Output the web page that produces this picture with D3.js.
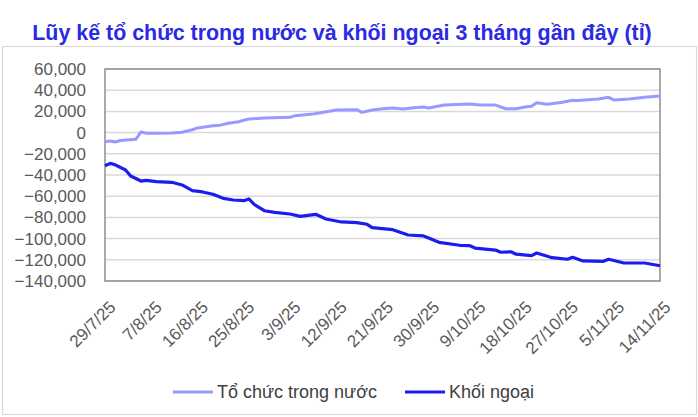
<!DOCTYPE html>
<html>
<head>
<meta charset="utf-8">
<script src="https://cdn.jsdelivr.net/npm/d3@7"></script>
<style>
  body { margin: 0; background: #fff; }
  text { font-family: "Liberation Sans", Arial, sans-serif; }
</style>
</head>
<body>
<div id="chart"></div>
<script>
// values in ty dong (thousands on the axis)
const domesticDates = ["2025-07-29","2025-07-30","2025-07-31","2025-08-01","2025-08-04","2025-08-05","2025-08-06","2025-08-08","2025-08-11","2025-08-13","2025-08-15","2025-08-16","2025-08-19","2025-08-20","2025-08-22","2025-08-24","2025-08-25","2025-08-26","2025-08-29","2025-09-03","2025-09-04","2025-09-07","2025-09-09","2025-09-12","2025-09-16","2025-09-17","2025-09-19","2025-09-21","2025-09-23","2025-09-25","2025-09-27","2025-09-29","2025-09-30","2025-10-03","2025-10-08","2025-10-10","2025-10-13","2025-10-15","2025-10-17","2025-10-19","2025-10-20","2025-10-21","2025-10-23","2025-10-26","2025-10-28","2025-10-29","2025-11-02","2025-11-04","2025-11-05","2025-11-08","2025-11-11","2025-11-14"];
const domesticValues = [-8600,-7900,-8900,-7400,-6300,600,-500,-700,-400,300,2700,4400,6500,6600,8800,10300,11600,12800,13800,14400,16000,17200,18800,21300,21600,19100,21300,22500,23200,22300,23500,24200,23200,26000,27000,26000,26000,22500,22500,24400,24800,28200,26700,28600,30500,30200,31700,33300,30800,31700,33300,34500];

const foreignDates = ["2025-07-29","2025-07-30","2025-07-31","2025-08-02","2025-08-03","2025-08-05","2025-08-06","2025-08-08","2025-08-11","2025-08-13","2025-08-15","2025-08-17","2025-08-19","2025-08-21","2025-08-23","2025-08-25","2025-08-26","2025-08-27","2025-08-29","2025-08-31","2025-09-03","2025-09-05","2025-09-08","2025-09-10","2025-09-13","2025-09-16","2025-09-18","2025-09-19","2025-09-22","2025-09-23","2025-09-26","2025-09-29","2025-10-02","2025-10-06","2025-10-08","2025-10-09","2025-10-13","2025-10-14","2025-10-16","2025-10-17","2025-10-20","2025-10-21","2025-10-24","2025-10-27","2025-10-28","2025-10-30","2025-11-03","2025-11-04","2025-11-07","2025-11-11","2025-11-14"];
const foreignValues = [-31200,-29000,-30400,-35300,-41000,-45700,-45000,-46300,-46900,-49400,-54800,-56000,-58200,-62000,-63600,-64200,-62600,-67600,-73700,-75200,-76800,-79000,-77100,-81500,-84300,-85000,-86500,-89700,-91000,-91600,-96600,-97500,-103500,-106300,-106700,-108900,-110800,-112900,-112400,-114700,-116100,-113600,-118000,-119500,-117600,-121100,-121400,-119500,-123000,-123000,-125600];

const seriesNames = ["Tổ chức trong nước", "Khối ngoại"];
const yTicks = [60000,40000,20000,0,-20000,-40000,-60000,-80000,-100000,-120000,-140000];
const xTickLabels = ["2025-07-29","2025-08-07","2025-08-16","2025-08-25","2025-09-03","2025-09-12","2025-09-21","2025-09-30","2025-10-09","2025-10-18","2025-10-27","2025-11-05","2025-11-14"];
const titleText = "Lũy kế tổ chức trong nước và khối ngoại 3 tháng gần đây (tỉ)";

const W = 698, H = 417;
const margin = {left: 105, right: 38, top: 69, bottom: 136};
const width = W - margin.left - margin.right;
const height = H - margin.top - margin.bottom;
const colors = ["#9999ff", "#1c1cf0"];

const parse = d3.timeParse("%Y-%m-%d");
const fmt = d3.timeFormat("%-d/%-m/%y");

const svg = d3.select("#chart").append("svg")
    .attr("width", W)
    .attr("height", H);

// outer frame
svg.append("rect")
    .attr("x", 2.5).attr("y", 46.5)
    .attr("width", 694).attr("height", 368)
    .attr("fill", "none")
    .attr("stroke", "#d9d9d9")
    .attr("stroke-width", 1.2);

// title, scaled to the width it has in the picture
const title = svg.append("text")
    .attr("x", 342).attr("y", 40)
    .attr("text-anchor", "middle")
    .attr("font-weight", "bold")
    .attr("font-size", 19)
    .attr("fill", "#2a2ae6")
    .text(titleText);
const tl = title.node().getComputedTextLength();
title.attr("font-size", 19 * 620 / tl);

const g = svg.append("g")
    .attr("transform", `translate(${margin.left},${margin.top})`);

const x = d3.scaleTime()
    .domain([parse(xTickLabels[0]), parse(xTickLabels[xTickLabels.length - 1])])
    .range([0, width]);

const y = d3.scaleLinear()
    .domain([-140000, 60000])
    .range([height, 0]);

// gridlines
g.append("g")
    .selectAll("line")
    .data(yTicks)
    .enter().append("line")
    .attr("x1", 0).attr("x2", width)
    .attr("y1", d => y(d)).attr("y2", d => y(d))
    .attr("stroke", "#d9d9d9")
    .attr("stroke-width", 1.5);

// y axis labels
const yAxis = g.append("g")
    .call(d3.axisLeft(y).tickValues(yTicks).tickSize(0).tickPadding(19).tickFormat(d3.format(",")));
yAxis.select(".domain").remove();
yAxis.selectAll("text")
    .attr("font-size", 17)
    .attr("fill", "#595959")
    .style("font-family", "'Liberation Sans', Arial, sans-serif");

// x axis labels, rotated
const xAxis = g.append("g")
    .attr("transform", `translate(0,${height})`)
    .call(d3.axisBottom(x).tickValues(xTickLabels.map(parse)).tickSize(0).tickFormat(fmt));
xAxis.select(".domain").remove();
xAxis.selectAll("text")
    .attr("font-size", 17)
    .attr("fill", "#595959")
    .style("font-family", "'Liberation Sans', Arial, sans-serif")
    .attr("text-anchor", "end")
    .attr("y", 0)
    .attr("dy", "0.35em")
    .attr("transform", "translate(7,23) rotate(-45)");

// plot border
g.append("rect")
    .attr("width", width).attr("height", height)
    .attr("fill", "none")
    .attr("stroke", "#8f8f8f")
    .attr("stroke-width", 1.5);

const line = d3.line()
    .x(d => x(d[0]))
    .y(d => y(d[1]));

const domestic = domesticDates.map((d, i) => [parse(d), domesticValues[i]]);
const foreign = foreignDates.map((d, i) => [parse(d), foreignValues[i]]);

g.append("path")
    .datum(domestic)
    .attr("d", line)
    .attr("fill", "none")
    .attr("stroke", colors[0])
    .attr("stroke-width", 3)
    .attr("stroke-linejoin", "round");

g.append("path")
    .datum(foreign)
    .attr("d", line)
    .attr("fill", "none")
    .attr("stroke", colors[1])
    .attr("stroke-width", 3.2)
    .attr("stroke-linejoin", "round");

// legend
const legendX = [173, 405];
const legend = svg.append("g")
    .selectAll("g")
    .data(seriesNames)
    .enter().append("g")
    .attr("transform", (d, i) => `translate(${legendX[i]},392)`);
legend.append("line")
    .attr("x1", 0).attr("x2", 40)
    .attr("stroke", (d, i) => colors[i])
    .attr("stroke-width", 3);
legend.append("text")
    .attr("x", 44)
    .attr("dy", "0.35em")
    .attr("font-size", 18)
    .attr("fill", "#404040")
    .text(d => d);
</script>
</body>
</html>
